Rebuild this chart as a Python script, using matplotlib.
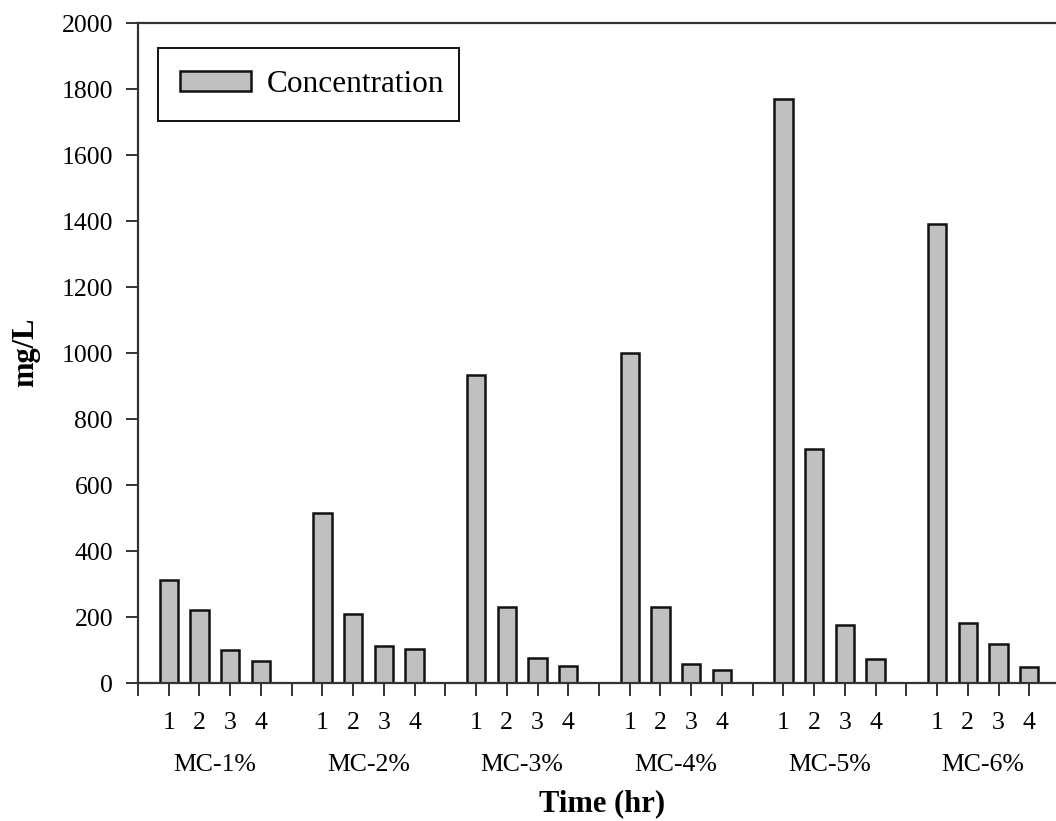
import matplotlib
matplotlib.use("Agg")
import matplotlib.pyplot as plt
import matplotlib.transforms as mtransforms
import numpy as np

plt.rcParams["font.family"] = ["Liberation Serif", "DejaVu Serif"]

groups = ["MC-1%", "MC-2%", "MC-3%", "MC-4%", "MC-5%", "MC-6%"]
hours = ["1", "2", "3", "4"]
conc = [
    [312, 221, 100, 67],     # MC-1%
    [517, 209, 113, 104],    # MC-2%
    [933, 232, 76, 53],      # MC-3%
    [1001, 232, 59, 41],     # MC-4%
    [1771, 711, 178, 73],    # MC-5%
    [1391, 182, 118, 50],    # MC-6%
]

W, H = 1056, 821
fig = plt.figure(figsize=(W / 100, H / 100), dpi=100)
# axis x range 0..30 slots; right end runs slightly past the canvas edge
ax = fig.add_axes([138 / W, 1 - 683.3 / H, (1060 - 138) / W, 660 / H])

slot = len(hours) + 1
xs, vals, tick_pos, tick_lab = [], [], [], []
for g, row in enumerate(conc):
    base = g * slot
    tick_pos.append(base); tick_lab.append("")
    for i, v in enumerate(row):
        xs.append(base + 1 + i); vals.append(v)
        tick_pos.append(base + 1 + i); tick_lab.append(hours[i])

ax.bar(xs, vals, width=0.6, color="#c0c0c0", edgecolor="#111111", linewidth=1.8,
       label="Concentration", zorder=2)

ax.set_xlim(0, 30)
ax.set_ylim(0, 2000)
ax.set_yticks(np.arange(0, 2001, 200))
ax.set_xticks(tick_pos)
ax.set_xticklabels(tick_lab)

spine_c = "#333333"
for s in ["left", "top", "bottom"]:
    ax.spines[s].set_color(spine_c)
    ax.spines[s].set_linewidth(1.6)
ax.spines["right"].set_visible(False)
ax.tick_params(axis="y", direction="out", length=9, width=1.4, color=spine_c,
               labelsize=18.5, pad=9)
ax.tick_params(axis="x", direction="out", length=9, width=1.4, color=spine_c,
               labelsize=18.5, pad=12)

# group names under each block of bars
trans = mtransforms.blended_transform_factory(ax.transData, ax.transAxes)
for g, name in enumerate(groups):
    cx = g * slot + (1 + len(hours)) / 2
    ax.text(cx, -0.124, name, transform=trans, ha="center", va="center", fontsize=18.5)

fig.text(602 / W, 1 - 804 / H, "Time (hr)", ha="center", va="center",
         fontsize=22, fontweight="bold")
fig.text(26 / W, 1 - 352 / H, "mg/L", ha="center", va="center", rotation=90,
         fontsize=22, fontweight="bold")

leg_x0, leg_y0, leg_x1, leg_y1 = 158, 48, 459, 120
ax.legend(loc="upper left", mode="expand",
          bbox_to_anchor=(leg_x0 / W, 1 - leg_y1 / H, (leg_x1 - leg_x0) / W, (leg_y1 - leg_y0) / H),
          bbox_transform=fig.transFigure, borderaxespad=0, fontsize=22.5,
          fancybox=False, framealpha=1, edgecolor="#111111",
          handlelength=2.27, handleheight=0.58, handletextpad=0.5, borderpad=0.7)
ax.get_legend().get_frame().set_linewidth(1.4)

fig.savefig("out.png", dpi=100, facecolor="white")
